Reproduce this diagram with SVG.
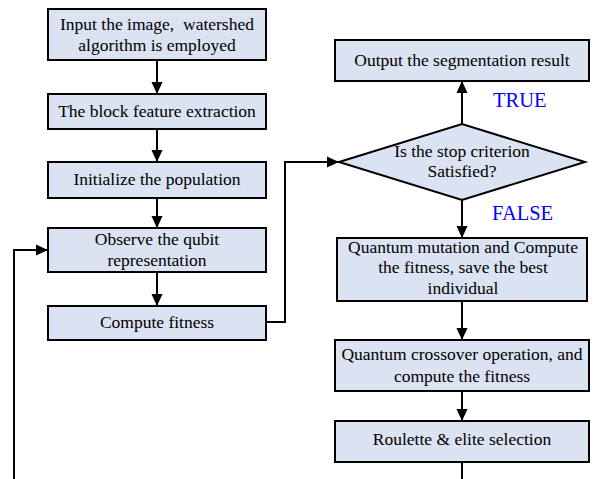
<svg xmlns="http://www.w3.org/2000/svg" width="595" height="479" viewBox="0 0 595 479">
<style>
.box{fill:#dbe2f1;stroke:#000;stroke-width:2}
.t{font-family:"Liberation Serif","Times New Roman",serif;font-size:17.5px;fill:#000;text-anchor:middle}
.lbl{font-family:"Liberation Serif","Times New Roman",serif;font-size:20.5px;fill:#0000ff}
.c{fill:none;stroke:#000;stroke-width:2}
</style>
<defs>
<marker id="ah" markerWidth="12" markerHeight="13" viewBox="0 0 13 12" refX="13" refY="6" orient="auto" markerUnits="userSpaceOnUse">
<path d="M0,0 L13,6 L0,12 Z" fill="#000"/>
</marker>
</defs>
<rect width="595" height="479" fill="#fff"/>
<g id="connectors">
<path class="c" d="M157,60 V94" marker-end="url(#ah)"/>
<path class="c" d="M157,129 V162" marker-end="url(#ah)"/>
<path class="c" d="M157,198 V228" marker-end="url(#ah)"/>
<path class="c" d="M157,272 V306" marker-end="url(#ah)"/>
<path class="c" d="M266,322 H285 V162 H339" marker-end="url(#ah)"/>
<path class="c" d="M462,124 V81" marker-end="url(#ah)"/>
<path class="c" d="M462,200 V238" marker-end="url(#ah)"/>
<path class="c" d="M462,301 V340" marker-end="url(#ah)"/>
<path class="c" d="M462,391 V421" marker-end="url(#ah)"/>
<path class="c" d="M462,462 V479"/>
<path class="c" d="M14,479 V250 H48" marker-end="url(#ah)"/>
</g>
<g id="n1"><rect class="box" x="48" y="9" width="218" height="51"/>
<text class="t" x="157" y="30">Input the image,&#160; watershed</text>
<text class="t" x="157" y="51">algorithm is employed</text></g>
<g id="n2"><rect class="box" x="48" y="94" width="218" height="35"/>
<text class="t" x="157" y="117">The block feature extraction</text></g>
<g id="n3"><rect class="box" x="48" y="162" width="218" height="36"/>
<text class="t" x="157" y="185">Initialize the population</text></g>
<g id="n4"><rect class="box" x="48" y="228" width="218" height="44"/>
<text class="t" x="157" y="245">Observe the qubit</text>
<text class="t" x="157" y="266">representation</text></g>
<g id="n5"><rect class="box" x="48" y="306" width="218" height="34"/>
<text class="t" x="157" y="328">Compute fitness</text></g>
<g id="n6"><rect class="box" x="335" y="40" width="254" height="41"/>
<text class="t" x="462" y="66">Output the segmentation result</text></g>
<g id="n7"><polygon class="box" points="339,162 462,124 585,162 462,200"/>
<text class="t" x="462" y="157">Is the stop criterion</text>
<text class="t" x="462" y="177">Satisfied?</text></g>
<g id="n8"><rect class="box" x="337" y="238" width="250" height="63"/>
<text class="t" x="463" y="253">Quantum mutation and Compute</text>
<text class="t" x="463" y="273">the fitness, save the best</text>
<text class="t" x="463" y="294">individual</text></g>
<g id="n9"><rect class="box" x="335" y="340" width="254" height="51"/>
<text class="t" x="462" y="360">Quantum crossover operation, and</text>
<text class="t" x="462" y="382">compute the fitness</text></g>
<g id="n10"><rect class="box" x="335" y="421" width="254" height="41"/>
<text class="t" x="462" y="445">Roulette &amp; elite selection</text></g>
<text class="lbl" x="493" y="107">TRUE</text>
<text class="lbl" x="492" y="220">FALSE</text>
</svg>
